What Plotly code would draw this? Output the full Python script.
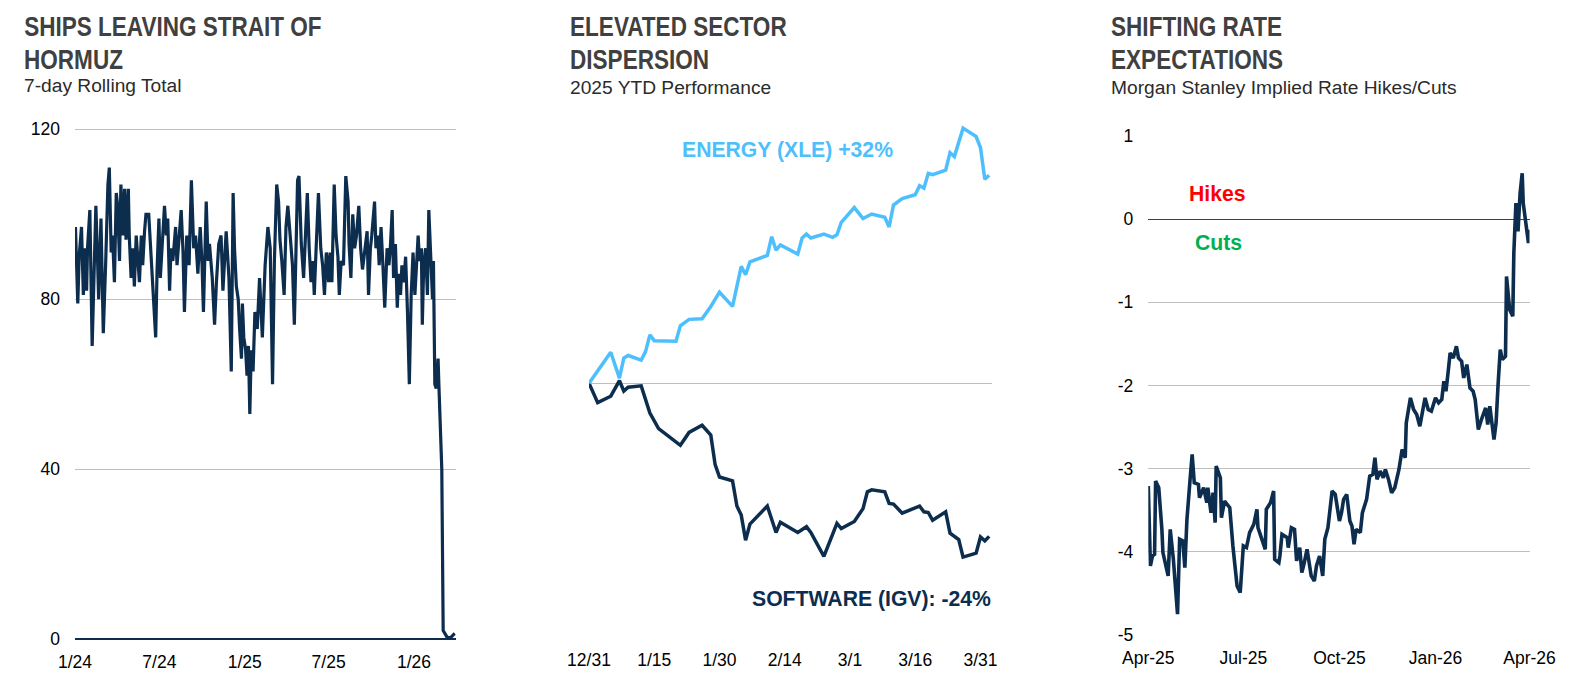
import plotly.graph_objects as go
import pandas as pd

W, H = 1590, 698
NAVY = '#0C2D4E'
BLUE = '#4DBFFC'
GRID = '#BFBFBF'
TITLE_C = '#404040'
SUB_C = '#2B2B2B'
FONT = 'Liberation Sans, Arial, sans-serif'

# ---------------- Chart 1: ships leaving Strait of Hormuz (days since 2024-01-01)
ship_days = [0, 1, 6, 9, 14, 18, 22, 25, 27, 32, 37, 42, 45, 49, 51, 56, 61, 66, 68, 71,
             74, 78, 81, 85, 89, 92, 96, 99, 103, 107, 110, 115, 117, 121, 125, 128, 132, 135, 139, 143,
             146, 150, 153, 159, 164, 169, 174, 177, 181, 184, 188, 193, 197, 200, 204, 207, 211, 217, 220, 224,
             229, 233, 236, 241, 246, 251, 256, 260, 265, 270, 274, 277, 283, 287, 290, 296, 301, 305, 310, 315,
             319, 323, 326, 332, 337, 341, 344, 348, 352, 355, 359, 361, 364, 368, 371, 374, 377, 380, 384, 388,
             393, 398, 404, 410, 416, 421, 426, 430, 435, 439, 442, 446, 451, 455, 459, 464, 469, 473, 477, 480,
             483, 488, 493, 496, 501, 505, 509, 513, 516, 520, 525, 530, 534, 538, 542, 547, 550, 554, 559, 563,
             567, 570, 574, 579, 584, 589, 591, 595, 599, 603, 607, 612, 616, 620, 626, 630, 633, 637, 640, 646,
             649, 653, 656, 660, 664, 668, 673, 677, 680, 684, 687, 691, 695, 698, 702, 705, 709, 713, 717, 721,
             725, 729, 733, 737, 740, 743, 747, 749, 752, 756, 760, 763, 767, 771, 773, 776, 779, 783, 785, 787,
             791, 794, 802, 809, 815, 819]
ship_counts = [92, 97, 79, 90, 97, 81, 92, 82, 92, 101, 69, 91, 102, 88, 80, 99, 72, 88, 95, 107,
               111, 91, 95, 84, 105, 102, 89, 107, 95, 106, 94, 106, 95, 85, 92, 83, 95, 89, 84, 95,
               88, 96, 100, 100, 90, 82, 71, 87, 99, 85, 92, 102, 95, 99, 82, 92, 89, 97, 88, 93,
               101, 91, 77, 95, 88, 108, 92, 95, 86, 97, 88, 77, 103, 89, 93, 85, 74, 84, 93, 95,
               82, 90, 96, 85, 63, 105, 92, 83, 80, 73, 66, 79, 71, 68, 62, 69, 53, 68, 63, 77,
               73, 85, 71, 88, 97, 92, 60, 89, 107, 103, 94, 89, 81, 97, 102, 95, 88, 74, 93, 108,
               109, 93, 85, 92, 105, 92, 84, 89, 81, 92, 105, 92, 88, 81, 91, 84, 91, 84, 107, 95,
               90, 81, 89, 88, 109, 103, 93, 85, 100, 92, 95, 102, 92, 87, 92, 96, 81, 92, 95, 103,
               92, 95, 88, 97, 88, 78, 92, 88, 92, 101, 85, 93, 78, 86, 81, 88, 84, 90, 77, 60,
               81, 91, 81, 88, 95, 89, 92, 74, 88, 92, 81, 101, 90, 80, 89, 60, 59, 66, 59, 52,
               40, 2, 0.5, 0.2, 1, 1.3]
ship_tick_vals = ['2024-01-01', '2024-07-01', '2025-01-01', '2025-07-01', '2026-01-01']
ship_tick_text = ['1/24', '7/24', '1/25', '7/25', '1/26']
ship_y_ticks = [0, 40, 80, 120]

# ---------------- Chart 2: sector dispersion (% performance)
energy_dates = ['2025-12-31', '2026-01-05', '2026-01-07', '2026-01-08', '2026-01-09', '2026-01-12',
                '2026-01-13', '2026-01-14', '2026-01-15', '2026-01-20', '2026-01-21', '2026-01-23',
                '2026-01-26', '2026-01-28', '2026-01-30', '2026-02-02', '2026-02-04', '2026-02-05',
                '2026-02-06', '2026-02-10', '2026-02-11', '2026-02-12', '2026-02-13', '2026-02-17',
                '2026-02-18', '2026-02-19', '2026-02-20', '2026-02-23', '2026-02-25', '2026-02-26',
                '2026-02-27', '2026-03-02', '2026-03-04', '2026-03-06', '2026-03-09', '2026-03-10',
                '2026-03-11', '2026-03-13', '2026-03-16', '2026-03-17', '2026-03-18', '2026-03-19',
                '2026-03-20', '2026-03-23', '2026-03-24', '2026-03-25', '2026-03-27', '2026-03-30',
                '2026-03-31', '2026-04-01', '2026-04-02']
energy_perf = [0, 4.8, 0.8, 3.9, 4.3, 3.6, 4.9, 7.5, 6.6, 6.5, 8.9, 9.9,
               10.0, 11.9, 14.1, 11.9, 18.1, 16.8, 18.8, 19.8, 22.7, 20.6, 21.4, 20.0,
               22.5, 23.1, 22.5, 23.1, 22.6, 23.0, 24.9, 27.2, 25.5, 26.2, 25.7, 24.2,
               27.6, 28.6, 29.2, 30.6, 30.2, 32.5, 32.3, 33.0, 35.7, 35.1, 39.5, 38.2,
               36.5, 31.6, 32.2]
software_dates = ['2025-12-31', '2026-01-02', '2026-01-05', '2026-01-07', '2026-01-08', '2026-01-09',
                  '2026-01-12', '2026-01-13', '2026-01-14', '2026-01-16', '2026-01-21', '2026-01-23',
                  '2026-01-26', '2026-01-28', '2026-01-29', '2026-01-30', '2026-02-02', '2026-02-03',
                  '2026-02-04', '2026-02-05', '2026-02-06', '2026-02-10', '2026-02-12', '2026-02-13',
                  '2026-02-17', '2026-02-19', '2026-02-20', '2026-02-23', '2026-02-25', '2026-02-26',
                  '2026-02-27', '2026-03-02', '2026-03-04', '2026-03-05', '2026-03-06', '2026-03-09',
                  '2026-03-10', '2026-03-11', '2026-03-13', '2026-03-17', '2026-03-18', '2026-03-19',
                  '2026-03-20', '2026-03-23', '2026-03-24', '2026-03-26', '2026-03-27', '2026-03-30',
                  '2026-03-31', '2026-04-01', '2026-04-02']
software_perf = [0, -3.0, -2.0, 0.4, -1.2, -0.6, -0.4, -2.6, -4.6, -7.0, -9.6, -7.6,
                 -6.5, -8.0, -12.6, -14.5, -15.1, -19.0, -20.4, -24.3, -21.8, -19.0, -23.1, -21.5,
                 -23.1, -22.2, -23.1, -26.8, -23.2, -21.7, -22.5, -21.4, -19.4, -16.8, -16.5, -16.8,
                 -18.6, -18.7, -20.1, -19.0, -19.9, -20.0, -21.2, -19.9, -23.2, -24.2, -26.9, -26.3,
                 -23.8, -24.4, -23.7]
disp_tick_vals = ['2025-12-31', '2026-01-15', '2026-01-30', '2026-02-14', '2026-03-01', '2026-03-16', '2026-03-31']
disp_tick_text = ['12/31', '1/15', '1/30', '2/14', '3/1', '3/16', '3/31']

# ---------------- Chart 3: implied rate hikes/cuts
rate_dates = ['2025-04-01', '2025-04-03', '2025-04-05', '2025-04-07', '2025-04-08', '2025-04-11',
              '2025-04-14', '2025-04-15', '2025-04-20', '2025-04-22', '2025-04-25', '2025-04-29',
              '2025-05-01', '2025-05-04', '2025-05-06', '2025-05-08', '2025-05-11', '2025-05-13',
              '2025-05-15', '2025-05-19', '2025-05-20', '2025-05-24', '2025-05-27', '2025-05-28',
              '2025-05-31', '2025-06-02', '2025-06-04', '2025-06-05', '2025-06-09', '2025-06-10',
              '2025-06-13', '2025-06-18', '2025-06-21', '2025-06-25', '2025-06-28', '2025-07-01',
              '2025-07-04', '2025-07-07', '2025-07-11', '2025-07-14', '2025-07-15', '2025-07-19',
              '2025-07-22', '2025-07-23', '2025-07-27', '2025-07-30', '2025-07-31', '2025-08-04',
              '2025-08-05', '2025-08-07', '2025-08-12', '2025-08-13', '2025-08-16', '2025-08-19',
              '2025-08-21', '2025-08-24', '2025-08-26', '2025-08-28', '2025-08-31', '2025-09-04',
              '2025-09-07', '2025-09-09', '2025-09-12', '2025-09-15', '2025-09-17', '2025-09-20',
              '2025-09-24', '2025-09-27', '2025-10-01', '2025-10-03', '2025-10-05', '2025-10-08',
              '2025-10-11', '2025-10-13', '2025-10-15', '2025-10-17', '2025-10-21', '2025-10-23',
              '2025-10-27', '2025-10-30', '2025-11-02', '2025-11-04', '2025-11-06', '2025-11-09',
              '2025-11-12', '2025-11-14', '2025-11-17', '2025-11-20', '2025-11-23', '2025-11-27',
              '2025-11-30', '2025-12-03', '2025-12-04', '2025-12-08', '2025-12-11', '2025-12-14',
              '2025-12-17', '2025-12-22', '2025-12-25', '2025-12-28', '2026-01-01', '2026-01-04',
              '2026-01-07', '2026-01-09', '2026-01-11', '2026-01-13', '2026-01-15', '2026-01-18',
              '2026-01-21', '2026-01-23', '2026-01-26', '2026-01-28', '2026-01-31', '2026-02-03',
              '2026-02-06', '2026-02-08', '2026-02-11', '2026-02-14', '2026-02-18', '2026-02-20',
              '2026-02-22', '2026-02-26', '2026-02-28', '2026-03-02', '2026-03-04', '2026-03-06',
              '2026-03-09', '2026-03-10', '2026-03-13', '2026-03-16', '2026-03-17', '2026-03-19',
              '2026-03-21', '2026-03-23', '2026-03-25', '2026-03-26', '2026-03-29', '2026-03-31',
              '2026-04-01']
rate_moves = [-3.21, -4.17, -4.05, -4.03, -3.15, -3.23, -3.73, -4.01, -4.29, -3.73, -4.09, -4.75,
              -3.85, -3.87, -4.19, -3.61, -3.13, -2.83, -3.17, -3.19, -3.35, -3.23, -3.41, -3.23,
              -3.53, -3.29, -3.65, -2.97, -3.11, -3.59, -3.39, -3.47, -3.93, -4.41, -4.49, -3.93,
              -3.95, -3.77, -3.67, -3.49, -3.71, -3.85, -3.97, -3.49, -3.41, -3.27, -4.09, -4.13,
              -4.05, -3.79, -3.83, -3.95, -3.71, -3.73, -4.11, -3.95, -4.25, -4.15, -3.97, -4.29,
              -4.35, -4.17, -4.05, -4.29, -3.85, -3.71, -3.27, -3.31, -3.63, -3.53, -3.37, -3.31,
              -3.63, -3.69, -3.91, -3.73, -3.77, -3.53, -3.37, -3.09, -3.07, -2.87, -3.13, -3.03,
              -3.11, -3.01, -3.13, -3.29, -3.23, -3.01, -2.77, -2.87, -2.45, -2.15, -2.29, -2.35,
              -2.49, -2.15, -2.29, -2.31, -2.15, -2.21, -2.17, -1.95, -2.07, -1.85, -1.61, -1.67,
              -1.53, -1.67, -1.71, -1.91, -1.75, -2.03, -2.07, -2.17, -2.53, -2.41, -2.27, -2.47,
              -2.25, -2.65, -2.45, -1.97, -1.57, -1.69, -1.65, -0.69, -1.09, -1.17, -0.41, 0.19,
              -0.15, 0.31, 0.55, 0.19, -0.09, -0.29, -0.13]
rate_tick_vals = ['2025-04-01', '2025-07-01', '2025-10-01', '2026-01-01', '2026-04-01']
rate_tick_text = ['Apr-25', 'Jul-25', 'Oct-25', 'Jan-26', 'Apr-26']
rate_y_vals = [-5, -4, -3, -2, -1, 0, 1]
rate_y_text = ['-5', '-4', '-3', '-2', '-1', '0', '1']


def fx(p):
    return p / W


def fy(p):
    return 1 - p / H


def ydomain(zero_px, px_per_unit, lo, hi):
    return [fy(zero_px - lo * px_per_unit), fy(zero_px - hi * px_per_unit)]


ship_dates = pd.Timestamp('2024-01-01') + pd.to_timedelta(ship_days, unit='D')

fig = go.Figure()
fig.add_trace(go.Scatter(x=ship_dates, y=ship_counts, mode='lines',
                         line=dict(color=NAVY, width=3.2), xaxis='x', yaxis='y', hoverinfo='skip'))
fig.add_trace(go.Scatter(x=software_dates, y=software_perf, mode='lines',
                         line=dict(color=NAVY, width=3.5), xaxis='x2', yaxis='y2', hoverinfo='skip'))
fig.add_trace(go.Scatter(x=energy_dates, y=energy_perf, mode='lines',
                         line=dict(color=BLUE, width=3.5), xaxis='x2', yaxis='y2', hoverinfo='skip'))
fig.add_trace(go.Scatter(x=rate_dates, y=rate_moves, mode='lines',
                         line=dict(color=NAVY, width=3.6), xaxis='x3', yaxis='y3', hoverinfo='skip'))

tickfont = dict(family=FONT, size=17.5, color='#000000')
xcommon = dict(type='date', showgrid=False, zeroline=False, showline=False, ticks='',
               tickfont=tickfont, tickmode='array', fixedrange=True, automargin=False)

fig.update_layout(
    width=W, height=H, margin=dict(l=0, r=0, t=0, b=0, autoexpand=False),
    paper_bgcolor='white', plot_bgcolor='white', showlegend=False,
    xaxis=dict(domain=[fx(75), fx(455.7)], anchor='y', range=['2024-01-01', '2026-04-01'],
               tickvals=ship_tick_vals, ticktext=ship_tick_text, ticklabelstandoff=6, **xcommon),
    yaxis=dict(domain=ydomain(639, 4.2475, -1, 121), anchor='x', range=[-1, 121],
               tickmode='array', tickvals=ship_y_ticks, ticktext=[str(v) for v in ship_y_ticks],
               showgrid=True, gridcolor=GRID, gridwidth=1, zeroline=True, zerolinecolor=NAVY,
               zerolinewidth=1.5, showline=False, ticks='', tickfont=tickfont, ticklabelstandoff=14,
               automargin=False, fixedrange=True),
    xaxis2=dict(domain=[fx(589), fx(991.7)], anchor='y2', range=['2025-12-31', '2026-04-02 14:00'],
                tickvals=disp_tick_vals, ticktext=disp_tick_text, ticklabelstandoff=6, **xcommon),
    yaxis2=dict(domain=ydomain(383.3, 6.46, -40, 41), anchor='x2', range=[-40, 41],
                tickmode='array', tickvals=[0], showticklabels=False,
                showgrid=True, gridcolor=GRID, gridwidth=1, zeroline=False, showline=False, ticks='',
                automargin=False, fixedrange=True),
    xaxis3=dict(domain=[fx(1148.3), fx(1529.5)], anchor='y3', range=['2025-04-01', '2026-04-01'],
                tickvals=rate_tick_vals, ticktext=rate_tick_text, ticklabelstandoff=10, **xcommon),
    yaxis3=dict(domain=ydomain(219, 83.2, -5, 1), anchor='x3', range=[-5, 1],
                tickmode='array', tickvals=rate_y_vals, ticktext=rate_y_text,
                showgrid=True, gridcolor=GRID, gridwidth=1, zeroline=True, zerolinecolor='#404040',
                zerolinewidth=1.3, showline=False, ticks='', tickfont=tickfont, ticklabelstandoff=14,
                automargin=False, fixedrange=True),
)


def note(text, x, y, size, color, xanchor='left'):
    fig.add_annotation(text=text, x=fx(x), y=fy(y), xref='paper', yref='paper',
                       xanchor=xanchor, yanchor='middle', showarrow=False,
                       font=dict(family=FONT, size=size, color=color))


titles = [
    (22, ['SHIPS LEAVING STRAIT OF', 'HORMUZ'], '7-day Rolling Total', 85.5),
    (567.7, ['ELEVATED SECTOR', 'DISPERSION'], '2025 YTD Performance', 87.8),
    (1109.3, ['SHIFTING RATE', 'EXPECTATIONS'], 'Morgan Stanley Implied Rate Hikes/Cuts', 87.4),
]
for x0, lines, sub, suby in titles:
    note('<b>%s</b>' % lines[0], x0, 26.6, 27.5, TITLE_C)
    note('<b>%s</b>' % lines[1], x0, 59.3, 27.5, TITLE_C)
    note(sub, x0, suby, 19.2, SUB_C)

note('<b>ENERGY (XLE) +32%</b>', 787.7, 150, 21.2, BLUE, xanchor='center')
note('<b>SOFTWARE (IGV): -24%</b>', 993.3, 599.3, 21.2, NAVY, xanchor='right')
note('<b>Hikes</b>', 1217.7, 193.3, 21.2, '#FF0000', xanchor='center')
note('<b>Cuts</b>', 1218.3, 242.7, 21.2, '#00B050', xanchor='center')

# the titles use a narrow bold face in the original; condense the bold title text horizontally
post = """
(function(){
  var gd = document.getElementById('{plot_id}');
  function squeeze(){
    for (var i = 0; i < 9; i++) {
      if (i % 3 === 2) continue;
      var g = gd.querySelector('g.annotation[data-index="' + i + '"]');
      if (!g) continue;
      var t = g.querySelector('text.annotation-text');
      if (!t || t.getAttribute('data-sq')) continue;
      var bb = t.getBBox();
      var x = bb.x;
      var prev = t.getAttribute('transform') || '';
      t.setAttribute('transform', prev + ' translate(' + x + ',0) scale(0.82,1) translate(' + (-x) + ',0)');
      t.setAttribute('data-sq', '1');
    }
  }
  squeeze();
  if (gd.on) { gd.on('plotly_afterplot', squeeze); }
})();
"""

fig.write_html('out.html', config={'displayModeBar': False}, post_script=post)
